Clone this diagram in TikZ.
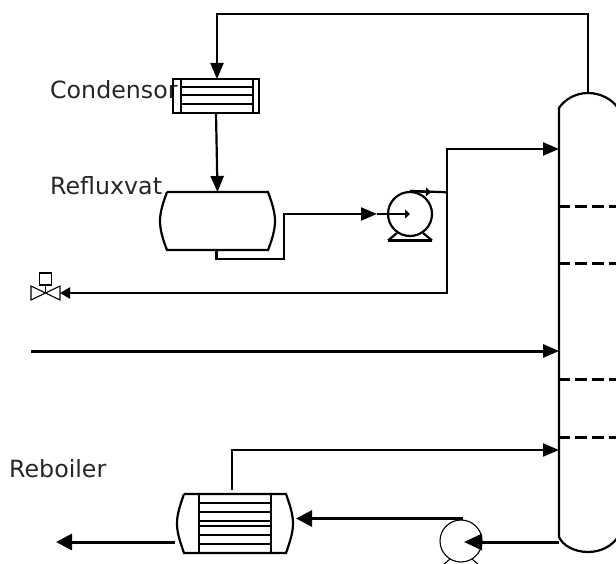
\documentclass[tikz,border=0pt]{standalone}
\usepackage{fontspec}
\setmainfont{DejaVu Sans}
\usetikzlibrary{arrows.meta}

\tikzset{
	pipe/.style={line width=2.2pt},
	feed/.style={pipe,-{Triangle[length=16pt,width=13pt]}},
	heavy/.style={line width=3pt,-{Triangle[length=16pt,width=16pt]}},
	small/.style={pipe,-{Triangle[length=5pt,width=9pt]}},
	thin/.style={line width=1.1pt},
	label/.style={anchor=base west,inner sep=0,font=\fontsize{23.7}{28}\selectfont,text=black!85},
	vessel/.style={inner sep=0,outer sep=0,minimum height=#1},
	tray/.style={line width=3pt,dash pattern=on 12pt off 5pt}
}

\begin{document}
\begin{tikzpicture}[x=1pt,y=-1pt]
	\useasboundingbox (0,0) rectangle (616,564);
	% labels
	\node[label] (condensorlabel) at (50,99) {Condensor};
	\node[label] (refluxlabel) at (50,195) {Refluxvat};
	\node[label] (reboilerlabel) at (9,477) {Reboiler};
	% column
	\coordinate (coltop) at (588,93);
	\coordinate (colbottom) at (588,552);
	\coordinate (colreflux) at (559,149);
	\coordinate (colfeed) at (559,351);
	\coordinate (colreturn) at (559,450);
	\coordinate (coldrain) at (559,542);
	\draw[pipe] (618,108) .. controls (612,99) and (600,93) .. (coltop) .. controls (576,93) and (565,99) .. (559,108)
		-- (559,537) .. controls (563,546) and (575,552) .. (colbottom) .. controls (601,552) and (612,546) .. (618,537);
	\foreach \y in {207,264,379,437}
		\draw[tray] (558,\y) -- (618,\y);
	% condensor
	\node[draw,vessel=34pt,minimum width=86pt,pipe] (condensor) at (216,96) {};
	\draw[pipe] (181,79) -- (181,113);
	\draw[pipe] (253,79) -- (253,113);
	\foreach \y in {87,95,104}
		\draw[pipe] (181,\y) -- (253,\y);
	% refluxvat
	\node[vessel=58pt,minimum width=101pt] (vat) at (217.5,221) {};
	\draw[pipe] (vat.north west) -- (vat.north east) .. controls (272,203) and (275,212) .. (275,221)
		.. controls (275,230) and (272,240) .. (vat.south east) -- (vat.south west)
		.. controls (163,240) and (160,230) .. (160,221) .. controls (160,212) and (163,203) .. (vat.north west);
	% reflux pump
	\node[draw,circle,pipe,inner sep=0,minimum size=44pt] (refluxpump) at (410,214) {};
	\draw[pipe] (388,240.5) -- (432,240.5);
	\draw[pipe] (388,240.5) -- (397,233);
	\draw[pipe] (432,240.5) -- (423,233);
	% valve
	\node[draw,inner sep=0,minimum size=12pt,thin] (valvebox) at (45.5,279) {};
	\coordinate (valve) at (45.5,293);
	\coordinate (valveport) at (60,293);
	\draw[thin] (valve) -- (31,286) -- (31,300) -- (valve) -- (60,286) -- (60,300) -- cycle;
	\draw[thin] (valvebox.south) -- (valve);
	% reboiler
	\node[vessel=59pt,minimum width=102pt] (reboiler) at (235,523.5) {};
	\draw[pipe] (reboiler.north west) -- (reboiler.north east) .. controls (289,503) and (293,513) .. (293,523.5)
		.. controls (293,534) and (289,544) .. (reboiler.south east) -- (reboiler.south west)
		.. controls (181,544) and (177,534) .. (177,523.5) .. controls (177,513) and (181,503) .. (reboiler.north west);
	\draw[pipe] (199,494) -- (199,553);
	\draw[pipe] (271,494) -- (271,553);
	\foreach \y in {503,512,521,526,535,544}
		\draw[pipe] (199,\y) -- (271,\y);
	% bottom pump
	\node[draw,circle,thin,inner sep=0,minimum size=42pt] (bottompump) at (461,541) {};
	\draw[thin] (443,565) -- (450,559);
	\draw[thin] (479,565) -- (472,559);
	% free ends
	\coordinate (feedstart) at (31,351);
	\coordinate (productend) at (56,542);
	\coordinate (productstart) at (175,542);
	\coordinate (pumpinlet) at (377,214);
	\coordinate (reboilertop) at (232,490);
	\coordinate (reboilerport) at (296,518.5);
	\coordinate (bottomtip) at (464,542);
	\coordinate (bottomout) at (463,518.5);
	\coordinate (condensorport) at (217,79);
	\coordinate (vatoutlet) at (216.5,250);
	\coordinate (tee) at (447,192.3);
	\coordinate (teetop) at (447,149);
	\coordinate (teebottom) at (447,293);
	\coordinate (teemark) at (431,192.3);
	% connectors
	\draw[feed] (coltop) -- (588,14) -- (217,14) -- (condensorport);
	\draw[feed] (condensor.south) -- (vat.north);
	\draw[feed] (vatoutlet) -- (216.5,259) -- (284,259) -- (284,214) -- (pumpinlet);
	\draw[small] (pumpinlet) -- (refluxpump.center);
	\draw[pipe] (refluxpump.north) -- (tee);
	\draw[small] (refluxpump.north) -- (teemark);
	\draw[pipe,line cap=rect] (teebottom) -- (teetop);
	\draw[feed] (teetop) -- (colreflux);
	\draw[pipe,-{Triangle[length=10pt,width=11pt]}] (teebottom) -- (valveport);
	\draw[feed,line width=3pt] (feedstart) -- (colfeed);
	\draw[feed] (reboilertop) -- (232,450) -- (colreturn);
	\draw[heavy,-{Triangle[length=18pt,width=16pt]}] (coldrain) -- (bottomtip);
	\draw[heavy] (bottomout) -- (reboilerport);
	\draw[heavy] (productstart) -- (productend);
\end{tikzpicture}
\end{document}
